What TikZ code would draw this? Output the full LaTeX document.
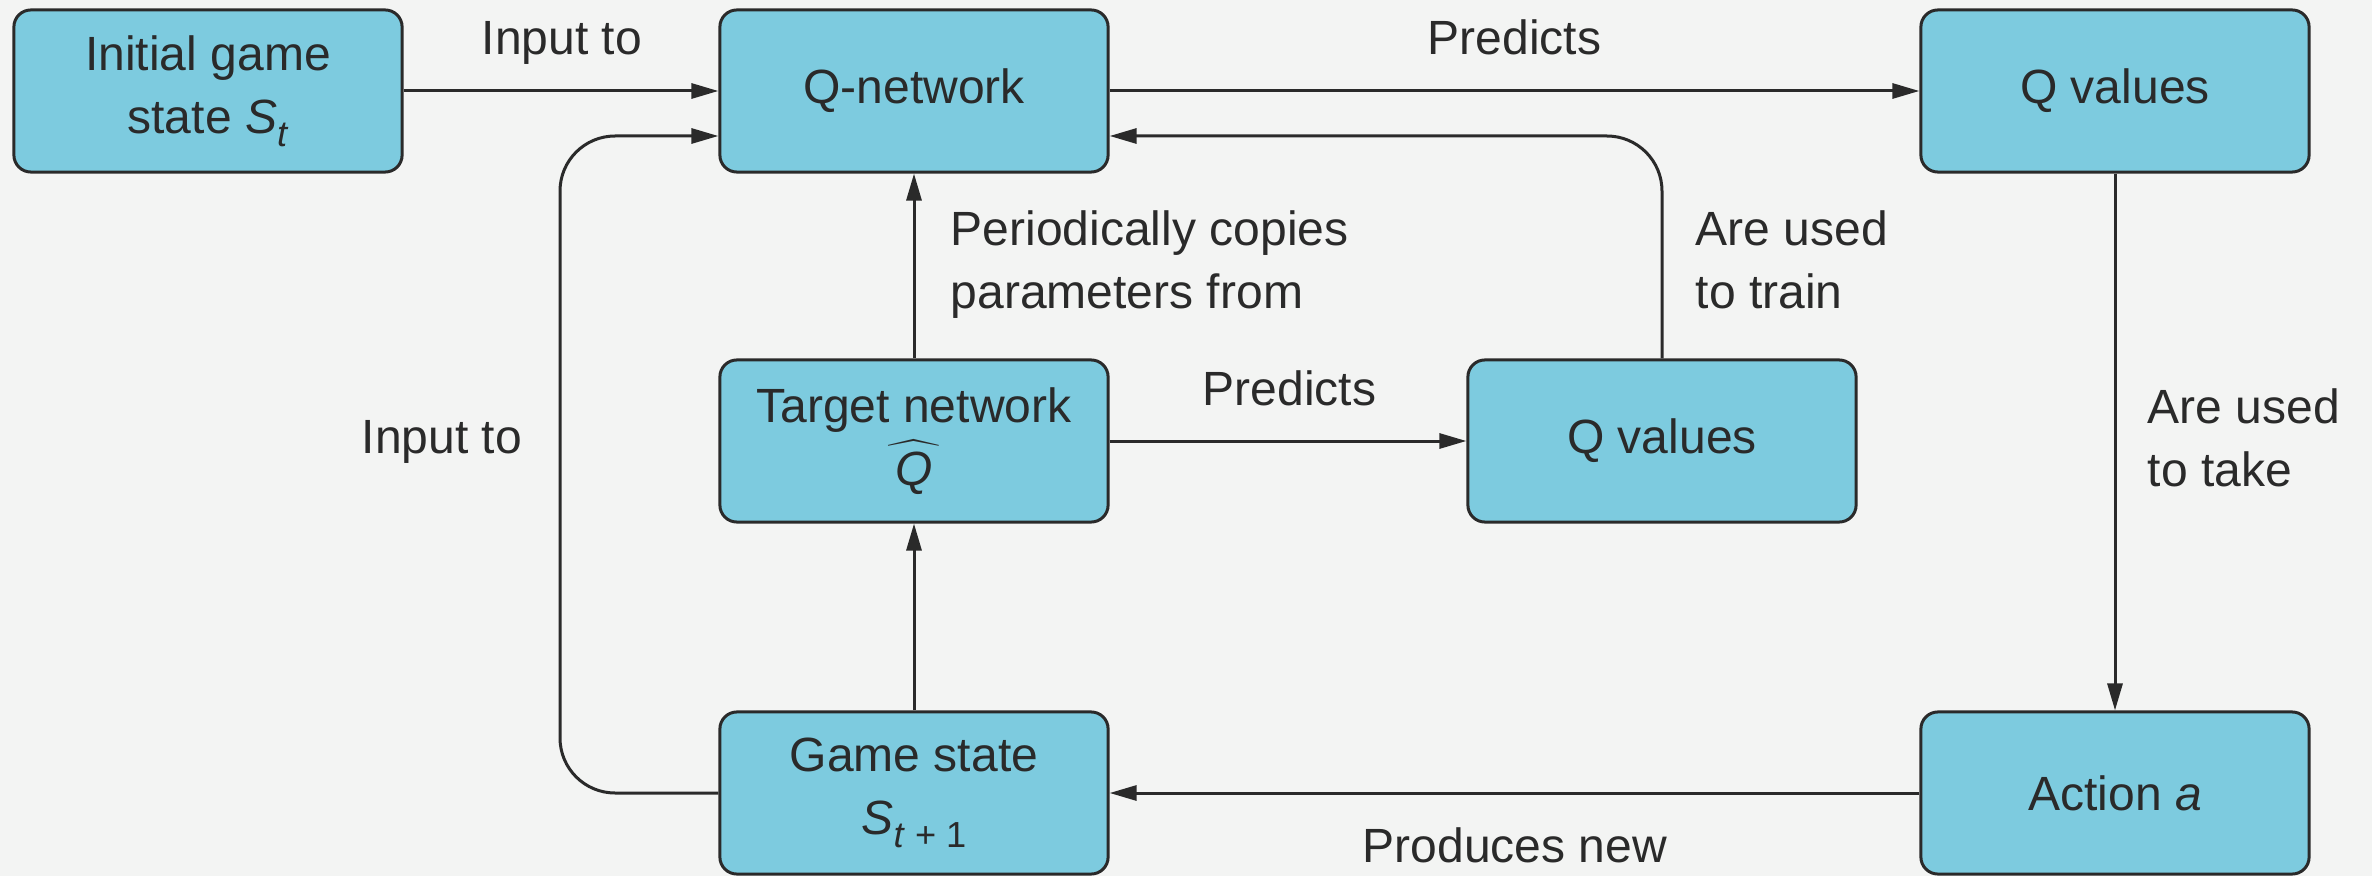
\documentclass[tikz,border=0pt]{standalone}
\usepackage{fontspec}
\setmainfont{Liberation Sans}
\usetikzlibrary{arrows.meta}
\definecolor{bg}{HTML}{F3F4F3}
\definecolor{boxfill}{HTML}{7DCBDF}
\definecolor{ink}{HTML}{2A2A2A}
% lowered, smaller subscript text
\newcommand\lowsub[1]{\raisebox{-0.13cm}{\fontsize{10.3pt}{12pt}\selectfont #1}}
\begin{document}
\begin{tikzpicture}[x=0.01cm, y=-0.01cm,
  font=\fontsize{13.66pt}{17.93pt}\selectfont,
  box/.style={draw=ink, fill=boxfill, line width=0.03cm, rounded corners=0.17cm,
    minimum width=3.88cm, minimum height=1.62cm, align=center, text=ink, inner sep=0pt},
  arr/.style={draw=ink, line width=0.03cm, -{Triangle[length=0.27cm,width=0.15cm]}},
  lbl/.style={text=ink, inner sep=0pt, align=left}]

\fill[bg] (0,0) rectangle (2372,876);
\useasboundingbox (0,0) rectangle (2372,876);

% boxes
\node[box] (init) at (208,91) {Initial game\\state \textit{S}\lowsub{\textit{t}}};
\node[box] (qnet) at (914,91) {Q-network};
\node[box] (qv1) at (2115,91) {Q values};
\node[box] (tgt) at (914,441) {Target network\\$\widehat{\makebox[16.5pt]{\textit{Q}}}$};
\node[box] (qv2) at (1662,441) {Q values};
\node[box] (gs) at (914,793) {Game state\\\textit{S}\lowsub{\textit{t} + 1}};
\node[box] (act) at (2115,793) {Action \textit{a}};

% straight connectors
\draw[arr] (init.east) -- (qnet.west);
\draw[arr] (qnet.east) -- (qv1.west);
\draw[arr] (qv1.south) -- (act.north);
\draw[arr] (act.west) -- (gs.east);
\draw[arr] (gs.north) -- (tgt.south);
\draw[arr] (tgt.north) -- (qnet.south);
\draw[arr] (tgt.east) -- (qv2.west);

% loops back into the Q-network
\coordinate (lbend) at (560,136);
\coordinate (rbend) at (1662,136);
\draw[arr, rounded corners=0.55cm] (gs.west) -| (lbend) -- (lbend -| qnet.west);
\draw[arr, rounded corners=0.55cm] (qv2.north) -- (rbend) -- (rbend -| qnet.east);

% connector labels
\node[lbl, anchor=base west] (l1) at (481,55) {Input to};
\node[lbl, anchor=base west] (l2) at (1427,55) {Predicts};
\node[lbl, anchor=north west] (l3) at (950,210) {Periodically copies\\parameters from};
\node[lbl, anchor=north west] (l4) at (1695,210) {Are used\\to train};
\node[lbl, anchor=base west] (l5) at (361,453) {Input to};
\node[lbl, anchor=base west] (l6) at (1202,405) {Predicts};
\node[lbl, anchor=north west] (l7) at (2147,388) {Are used\\to take};
\node[lbl, anchor=base west] (l8) at (1362,862) {Produces new};
\end{tikzpicture}
\end{document}
